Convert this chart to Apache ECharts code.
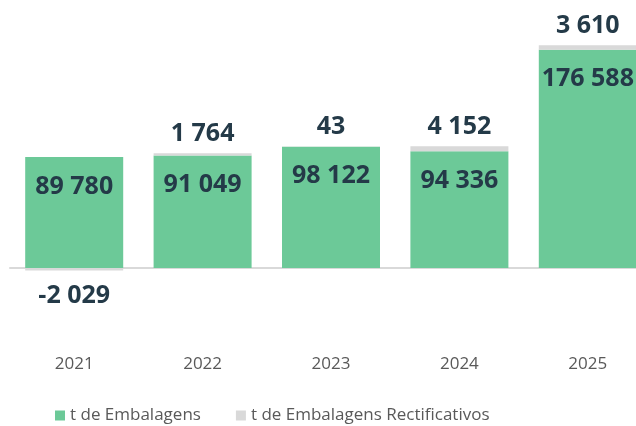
<!DOCTYPE html>
<html>
<head>
<meta charset="utf-8">
<script src="https://cdn.jsdelivr.net/npm/echarts@6/dist/echarts.min.js"></script>
<style>
    html, body { margin: 0; padding: 0; background: #fff; }
    #chart { width: 636px; height: 426px; }
</style>
</head>
<body>
<div id="chart"></div>
<script>
    // anos
    const anos = ['2021', '2022', '2023', '2024', '2025']
    // t de Embalagens
    const embalagens = [89780, 91049, 98122, 94336, 176588]
    // t de Embalagens Rectificativos
    const rectificativos = [-2029, 1764, 43, 4152, 3610]

    // separador de milhares com espaço
    function fmt(v) {
        return String(v).replace(/\B(?=(\d{3})+(?!\d))/g, ' ')
    }

    const labelFont = {
        fontFamily: 'Open Sans',
        fontWeight: 'bold',
        fontSize: 25,
        color: '#243a48'
    }

    const myChart = echarts.init(document.getElementById('chart'))

    const option = {
        animation: false,
        textStyle: { fontFamily: 'Open Sans' },
        grid: {
            left: 10,
            width: 642,
            top: 20.7,
            bottom: 133.3,
            containLabel: false,
            outerBoundsMode: 'none'
        },
        legend: {
            left: 50,
            top: 402,
            itemWidth: 10,
            itemHeight: 10,
            itemGap: 35,
            icon: 'rect',
            textStyle: { fontFamily: 'Open Sans', fontSize: 17, color: '#595959' },
            data: ['t de Embalagens', 't de Embalagens Rectificativos']
        },
        xAxis: {
            type: 'category',
            data: anos,
            axisLine: { onZero: true, lineStyle: { color: '#d9d9d9', width: 2 } },
            axisTick: { show: false },
            axisLabel: { margin: 63, fontSize: 17, color: '#595959', fontFamily: 'Open Sans' }
        },
        yAxis: {
            type: 'value',
            min: -20000,
            max: 200000,
            show: false,
            splitLine: { show: false }
        },
        series: [
            {
                name: 't de Embalagens',
                type: 'bar',
                stack: 'total',
                barWidth: 98,
                itemStyle: { color: '#6cc998' },
                label: Object.assign({
                    show: true,
                    position: 'insideTop',
                    distance: 17,
                    formatter: p => fmt(p.value)
                }, labelFont),
                data: embalagens
            },
            {
                name: 't de Embalagens Rectificativos',
                type: 'bar',
                stack: 'total',
                barWidth: 98,
                itemStyle: { color: '#d9d9d9' },
                label: Object.assign({
                    show: true,
                    position: 'top',
                    distance: 7,
                    formatter: p => fmt(p.value)
                }, labelFont),
                data: rectificativos.map(v => v < 0
                    ? { value: v, label: { position: 'bottom', distance: 13 } }
                    : v)
            }
        ]
    }

    myChart.setOption(option)
</script>
</body>
</html>
